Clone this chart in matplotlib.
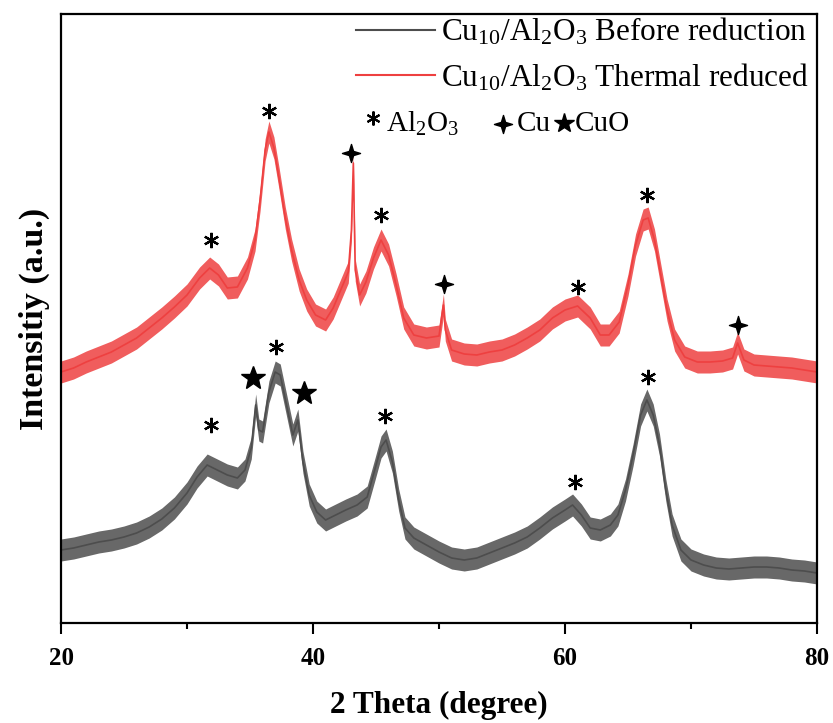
import matplotlib
matplotlib.use("Agg")
import matplotlib.pyplot as plt
from matplotlib.path import Path
from matplotlib.lines import Line2D
import numpy as np

plt.rcParams['font.family'] = ['Liberation Serif', 'DejaVu Sans']
plt.rcParams['mathtext.fontset'] = 'custom'
plt.rcParams['mathtext.rm'] = 'Liberation Serif'
plt.rcParams['mathtext.it'] = 'Liberation Serif:italic'
plt.rcParams['mathtext.bf'] = 'Liberation Serif:bold'

# ---------------- data (arbitrary intensity units) ----------------
red_theta = [20, 21, 22, 23, 24, 25, 26, 27, 28, 29, 30, 31, 31.8, 32.5, 33.2, 34.0,
             34.8, 35.4, 35.8, 36.2, 36.5, 36.9, 37.3, 37.8, 38.3, 38.9, 39.5, 40.2,
             41.0, 41.6, 42.2, 42.8, 43.05, 43.2, 43.35, 43.7, 44.2, 44.8, 45.4, 46.0,
             46.6, 47.2, 48.0, 49.0, 50.0, 50.35, 50.5, 51.0, 52.0, 53.0, 54.0, 55.0,
             56.0, 57.0, 58.0, 59.0, 60.0, 61.0, 62.0, 62.8, 63.5, 64.3, 65.0, 65.6,
             66.2, 66.6, 67.1, 67.6, 68.1, 68.7, 69.5, 70.5, 71.5, 72.5, 73.3, 73.7,
             74.2, 75, 76, 77, 78, 79, 80]
red_int = [251, 255, 261, 266, 271, 278, 285, 295, 305, 316, 328, 345, 355, 348, 335, 336,
           355, 383, 423, 473, 491, 475, 445, 405, 373, 343, 323, 308,
           303, 315, 333, 351, 393, 460, 353, 328, 341, 365, 383, 368,
           338, 305, 288, 285, 287, 318, 293, 273, 269, 268, 271, 273,
           278, 285, 293, 305, 313, 317, 305, 288, 288, 301, 338, 378,
           403, 405, 383, 348, 313, 283, 266, 261, 261, 262, 265, 280,
           263, 258, 257, 256, 255, 253, 251]

grey_theta = [20, 21, 22, 23, 24, 25, 26, 27, 28, 29, 30, 30.8, 31.6, 32.4, 33.2, 34.0,
              34.6, 35.1, 35.45, 35.7, 36.0, 36.5, 37.0, 37.4, 37.9, 38.4, 38.8, 39.2,
              39.7, 40.3, 41.0, 41.8, 42.6, 43.5, 44.3, 44.9, 45.4, 45.8, 46.3, 46.8,
              47.3, 48.0, 49.0, 50.0, 51.0, 52.0, 53.0, 54.0, 55.0, 56.0, 57.0, 58.0,
              59.0, 60.0, 60.6, 61.3, 62.0, 62.8, 63.6, 64.2, 64.8, 65.4, 66.0, 66.5,
              67.0, 67.5, 68.0, 68.5, 69.2, 70.0, 71, 72, 73, 74, 75, 76, 77, 78, 79, 80]
grey_int = [73, 75, 78, 81, 83, 86, 90, 96, 104, 115, 130, 146, 158, 153, 148, 145,
            153, 175, 218, 193, 191, 231, 251, 248, 218, 188, 203, 161,
            128, 111, 103, 108, 113, 118, 126, 153, 176, 183, 161, 123,
            95, 85, 78, 71, 65, 63, 65, 70, 75, 80, 86, 95,
            105, 113, 118, 108, 95, 93, 98, 108, 133, 168, 208, 223,
            208, 178, 133, 98, 73, 63, 58, 55, 54, 55, 56, 56, 55, 53, 52, 50]

noise_halfwidth = 11

# peak labels: position (2theta) and label height
red_al2o3_x = [31.9, 36.5, 45.4, 61.0, 66.5]
red_al2o3_y = [383, 512, 408, 336, 428]
red_cu_x = [43.05, 50.4, 73.7]
red_cu_y = [470, 339, 298]
grey_al2o3_x = [31.9, 37.1, 45.7, 60.8, 66.6]
grey_al2o3_y = [198, 276, 207, 141, 246]
grey_cuo_x = [35.2, 39.3]
grey_cuo_y = [245, 230]

x_ticks = [20, 40, 60, 80]
x_minor = [30, 50, 70]

series_labels = ['Cu$_\\mathregular{10}$/Al$_\\mathregular{2}$O$_\\mathregular{3}$ Before reduction',
                 'Cu$_\\mathregular{10}$/Al$_\\mathregular{2}$O$_\\mathregular{3}$ Thermal reduced']

grey_col = '#4d4d4d'
red_col = '#ee4040'

fig = plt.figure(figsize=(8.33, 7.23), dpi=100)
ax = fig.add_axes([61/833, 1-623/723, (817-61)/833, (623-14)/723])

for th, it, col in [(grey_theta, grey_int, grey_col), (red_theta, red_int, red_col)]:
    th = np.asarray(th, float); it = np.asarray(it, float)
    ax.fill_between(th, it - noise_halfwidth, it + noise_halfwidth, color=col, alpha=0.85, lw=0)
    ax.plot(th, it, color=col, lw=1.2)

# markers
asterisk = (6, 2, 0)
sparkle = Path.unit_regular_star(4, innerCircle=0.33)
ax.plot(red_al2o3_x, red_al2o3_y, ls='none', marker=asterisk, ms=11, mew=1.6, color='black')
ax.plot(grey_al2o3_x, grey_al2o3_y, ls='none', marker=asterisk, ms=11, mew=1.6, color='black')
ax.plot(red_cu_x, red_cu_y, ls='none', marker=sparkle, ms=13, color='black')
ax.plot(grey_cuo_x, grey_cuo_y, ls='none', marker='*', ms=18, color='black')

ax.set_xlim(20, 80)
ax.set_ylim(0, 609)
ax.set_xticks(x_ticks)
ax.set_xticklabels([str(t) for t in x_ticks], fontsize=18, fontweight='bold')
ax.set_xticks(x_minor, minor=True)
ax.set_yticks([])
ax.tick_params(axis='x', which='major', direction='out', length=8, width=1.5, pad=9)
ax.tick_params(axis='x', which='minor', direction='out', length=4.5, width=1.5)
for s in ax.spines.values():
    s.set_linewidth(1.6)

ax.set_xlabel('2 Theta (degree)', fontsize=22.5, fontweight='bold', labelpad=15)
ax.set_ylabel('Intensitiy (a.u.)', fontsize=24.5, fontweight='bold', labelpad=8)

handles = [Line2D([], [], color=grey_col, lw=1.5), Line2D([], [], color=red_col, lw=1.5)]
ax.legend(handles, series_labels, loc='upper right', bbox_to_anchor=(0.995, 1.004), frameon=False,
          fontsize=22.5, handlelength=2.5, handletextpad=0.2, borderpad=0.05, borderaxespad=0.1,
          labelspacing=0.45)

# third legend row
tr = ax.transAxes
def px(xp, yp):
    return ((xp - 61) / (817 - 61), (623 - yp) / (623 - 14))
ax.plot(*px(373, 118), marker=asterisk, ms=10, mew=1.5, color='black', transform=tr, clip_on=False)
ax.text(*px(386, 124), 'Al$_\\mathregular{2}$O$_\\mathregular{3}$', transform=tr, fontsize=21, va='center', ha='left')
ax.plot(*px(503, 124), marker=sparkle, ms=13, color='black', transform=tr, clip_on=False)
ax.text(*px(517, 124), 'Cu', transform=tr, fontsize=21, va='center', ha='left')
ax.plot(*px(564, 123), marker='*', ms=15, color='black', transform=tr, clip_on=False)
ax.text(*px(575, 124), 'CuO', transform=tr, fontsize=21, va='center', ha='left')

fig.savefig('out.png', dpi=100)
